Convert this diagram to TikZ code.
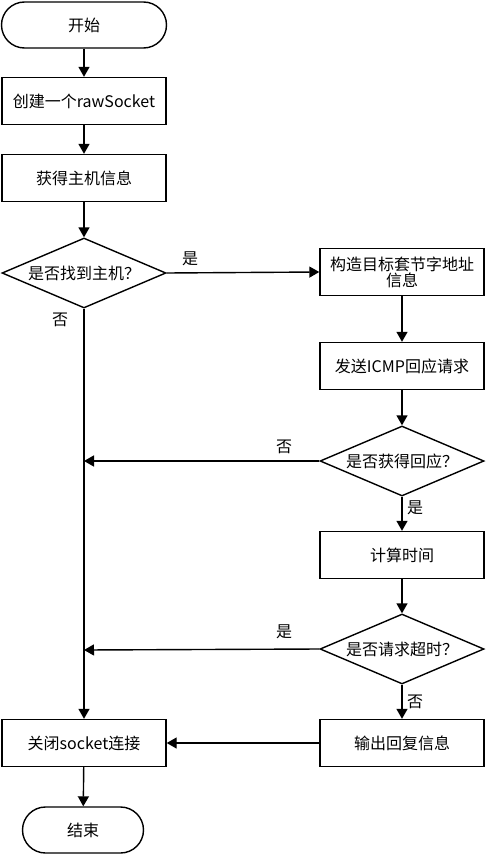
\documentclass[tikz,border=0pt]{standalone}
\usepackage{fontspec}
\setmainfont{Noto Sans CJK SC}
\usetikzlibrary{shapes.geometric,arrows.meta}

\tikzset{
	term/.style={draw, rounded corners=23pt, minimum width=165pt, minimum height=46pt},
	proc/.style={draw, minimum width=164pt, minimum height=47pt, align=center},
	decide/.style={draw, diamond, aspect=2.35, inner sep=0pt, minimum width=164pt, minimum height=70pt},
	lbl/.style={inner sep=1pt},
	flow/.style={-{Triangle[length=10pt,width=11pt]}}
}

\begin{document}
\begin{tikzpicture}[x=1pt,y=-1pt,line width=1.4pt,
		every node/.style={font=\fontsize{16}{19}\selectfont}]
		\useasboundingbox (0,0) rectangle (486,856);

		\node[term] (start) at (84,25) {开始};
		\node[proc] (raw) at (84,101) {创建一个rawSocket};
		\node[proc] (host) at (84,178) {获得主机信息};
		\node[decide] (found) at (84,273) {是否找到主机？};

		\node[proc] (addr) at (402,272) {构造目标套节字地址\\[-3pt]信息};
		\node[proc] (icmp) at (402,366) {发送ICMP回应请求};
		\node[decide] (reply) at (402,461) {是否获得回应？};
		\node[proc] (time) at (402,555) {计算时间};
		\node[decide] (timeout) at (402,649) {是否请求超时？};
		\node[proc] (output) at (402,743) {输出回复信息};

		\node[proc] (close) at (84,743) {关闭socket连接};
		\node[term, minimum width=121pt] (finish) at (83,830) {结束};

		\coordinate (m1) at (84,461);
		\coordinate (m2) at (84,650);

		\draw[flow] (start) -- (raw);
		\draw[flow] (raw) -- (host);
		\draw[flow] (host) -- (found);
		\draw[flow] (found.east) -- (addr.west); % found
		\draw[flow] (found.south) -- (close.north); % not found
		\draw[flow] (addr) -- (icmp);
		\draw[flow] (icmp) -- (reply);
		\draw[flow] (reply.west) -- (m1);
		\draw[flow] (reply.south) -- (time.north);
		\draw[flow] (time) -- (timeout);
		\draw[flow] (timeout.west) -- (m2);
		\draw[flow] (timeout.south) -- (output.north);
		\draw[flow] (output.west) -- (close.east);
		\draw[flow] (close) -- (finish);

		\node[lbl] (y1) at (190,259) {是};
		\node[lbl] (n1) at (60,320) {否};
		\node[lbl] (n2) at (284,447) {否};
		\node[lbl] (y2) at (415,508) {是};
		\node[lbl] (y3) at (284,632) {是};
		\node[lbl] (n3) at (415,702) {否};
	\end{tikzpicture}
\end{document}
